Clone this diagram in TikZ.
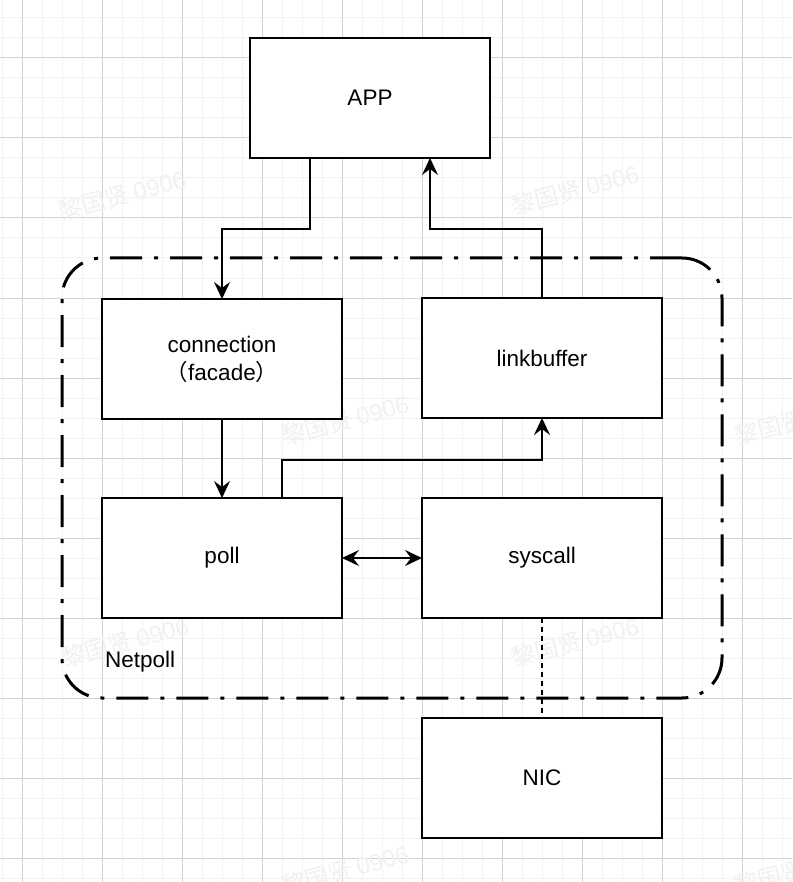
\documentclass[tikz,border=0pt]{standalone}
\usepackage{fontspec}
\setmainfont{Liberation Sans}
\newfontfamily\cjk{Noto Sans CJK SC}
\usetikzlibrary{arrows.meta}
\definecolor{gridminor}{HTML}{F2F2F2}
\definecolor{gridmajor}{HTML}{D2D2D2}
\definecolor{wmark}{HTML}{F1F1F1}
\tikzset{
  box/.style={draw=black, line width=2pt, fill=white, minimum width=240pt, minimum height=120pt,
    inner sep=0pt, outer sep=0pt, align=center, font=\fontsize{22.5}{28}\selectfont},
  container/.style={draw=black, line width=3pt, rounded corners=40pt, minimum width=660pt,
    minimum height=440pt, inner sep=0pt, outer sep=0pt, dash pattern=on 32pt off 12pt on 4pt off 12pt},
  conn/.style={line width=2pt, -{Stealth[length=17pt, width=16pt, inset=6pt]}},
  biconn/.style={line width=2pt, {Stealth[length=17pt, width=16pt, inset=6pt]}-{Stealth[length=17pt, width=16pt, inset=6pt]}},
  dotconn/.style={line width=2pt, dash pattern=on 5pt off 4pt},
  minorline/.style={draw=gridminor, line width=1pt},
  majorline/.style={draw=gridmajor, line width=1pt},
  wm/.style={text=wmark, rotate=15, font=\fontsize{24}{28}\selectfont},
  lbl/.style={font=\fontsize{22.5}{28}\selectfont, inner sep=0pt}
}
\begin{document}
\begin{tikzpicture}[x=1pt,y=-1pt]
\useasboundingbox (0,0) rectangle (792,882);
\fill[white] (0,0) rectangle (792,882);
% grid
\foreach \x in {2,22,...,782} \draw[minorline] (\x,0) -- (\x,882);
\foreach \y in {18,38,...,878} \draw[minorline] (0,\y) -- (792,\y);
\foreach \x in {22,102,...,742} \draw[majorline] (\x,0) -- (\x,882);
\foreach \y in {58,138,...,858} \draw[majorline] (0,\y) -- (792,\y);
% watermark
\foreach \p/\q [count=\i] in {122/195, 575/190, 345/420, 798/420, 125/642, 575/642, 345/870, 798/870}
  \node[wm] (wm\i) at (\p,\q) {\cjk 黎国贤 \normalfont 0906};
% container
\node[container] (netpoll) at (392,478) {};
\node[lbl, anchor=base west] (netpolllabel) at (105,667) {Netpoll};
% boxes
\node[box] (app) at (370,98) {APP};
\node[box] (connection) at (222,359) {connection\\{\cjk （}facade{\cjk ）}};
\node[box] (linkbuffer) at (542,358) {linkbuffer};
\node[box] (poll) at (222,558) {poll};
\node[box] (syscall) at (542,558) {syscall};
\node[box] (nic) at (542,778) {NIC};
% connectors
\draw[conn] ([xshift=-60pt]app.south) -- ++(0,71) -| (connection.north);
\draw[conn] (linkbuffer.north) -- ++(0,-69) -| ([xshift=60pt]app.south);
\draw[conn] (connection.south) -- (poll.north);
\draw[conn] ([xshift=60pt]poll.north) -- ++(0,-38) -| (linkbuffer.south);
\draw[biconn] (poll.east) -- (syscall.west);
\draw[dotconn] (syscall.south) -- (nic.north);
\end{tikzpicture}
\end{document}
